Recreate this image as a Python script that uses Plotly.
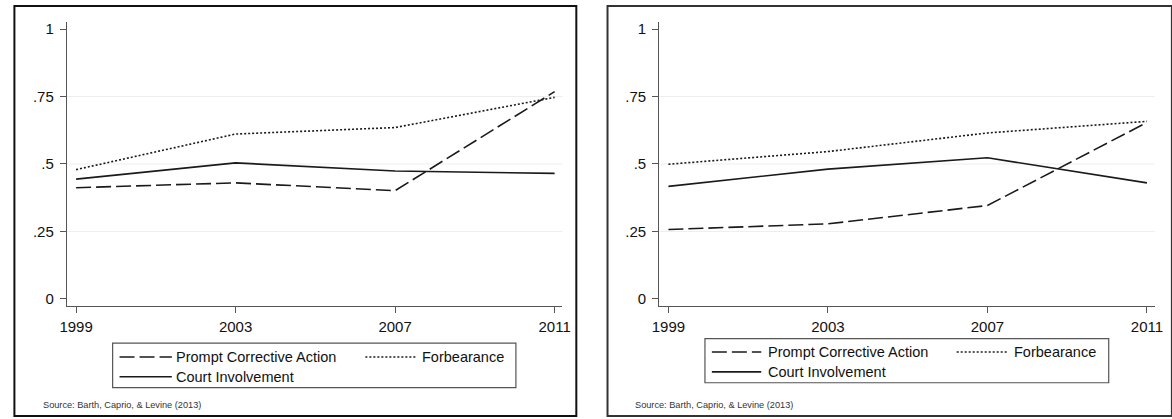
import plotly.graph_objects as go

# Survey waves
years = [1999, 2003, 2007, 2011]

# Left panel series
left_prompt_corrective = [0.412, 0.430, 0.401, 0.768]
left_forbearance = [0.479, 0.611, 0.635, 0.747]
left_court = [0.444, 0.504, 0.474, 0.465]

# Right panel series
right_prompt_corrective = [0.257, 0.278, 0.346, 0.654]
right_forbearance = [0.499, 0.546, 0.615, 0.658]
right_court = [0.417, 0.481, 0.523, 0.430]

# Tick labels
y_tickvals = [0, 0.25, 0.5, 0.75, 1]
y_ticktext = ["0", ".25", ".5", ".75", "1"]
x_ticktext = ["1999", "2003", "2007", "2011"]

series_names = ["Prompt Corrective Action", "Forbearance", "Court Involvement"]
source_text = "Source: Barth, Caprio, & Levine (2013)"

W, H = 1172, 419
FONT = "Liberation Sans, Arial, sans-serif"
LINE_COLOR = "#1a1a1a"
DASH_PCA = "15px,5px"
DASH_FORB = "2px,2px"


def fx(x):
    return x / W


def fy(y):
    return 1 - y / H


fig = go.Figure()

panels = [
    ("x", "y", left_prompt_corrective, left_forbearance, left_court),
    ("x2", "y2", right_prompt_corrective, right_forbearance, right_court),
]
styles = [DASH_PCA, DASH_FORB, "solid"]

for xa, ya, pca, forb, court in panels:
    for name, vals, dash in zip(series_names, [pca, forb, court], styles):
        fig.add_trace(go.Scatter(
            x=years, y=vals, mode="lines", name=name, showlegend=False,
            line=dict(color=LINE_COLOR, width=1.6, dash=dash),
            xaxis=xa, yaxis=ya,
        ))

axis_common = dict(
    showline=True, linecolor="#555555", linewidth=1.2,
    ticks="outside", ticklen=6, tickcolor="#555555", tickwidth=1,
    showgrid=False, zeroline=False,
    tickfont=dict(family=FONT, size=15, color="#111111"),
)

xr = [1998.77, 2011.198]
yr = [-0.0247, 1.0269]
ydom = [fy(306.7), fy(21)]

fig.update_layout(
    width=W, height=H, autosize=False,
    margin=dict(l=0, r=0, t=0, b=0),
    paper_bgcolor="white", plot_bgcolor="white",
    showlegend=False,
    xaxis=dict(domain=[fx(60.7), fx(562.7)], range=xr, tickvals=years,
               ticktext=x_ticktext, anchor="y", ticklabelstandoff=1,
               **axis_common),
    yaxis=dict(domain=ydom, range=yr, tickvals=y_tickvals,
               ticktext=y_ticktext, anchor="x", ticklabelstandoff=3,
               **axis_common),
    xaxis2=dict(domain=[fx(660.7), fx(1162.7)], range=xr, tickvals=years,
                ticktext=x_ticktext, anchor="y2", ticklabelstandoff=1,
                **axis_common),
    yaxis2=dict(domain=ydom, range=yr, tickvals=y_tickvals,
                ticktext=y_ticktext, anchor="x2", ticklabelstandoff=3,
                **axis_common),
)

shapes = []
annotations = []

# Faint horizontal grid lines
for xref, yref in [("x domain", "y"), ("x2 domain", "y2")]:
    for v in [0.25, 0.5, 0.75]:
        shapes.append(dict(type="line", xref=xref, yref=yref, x0=0, x1=1,
                           y0=v, y1=v, line=dict(color="#eeeeee", width=1),
                           layer="below"))

# Outer frames of each panel
shapes.append(dict(type="rect", xref="paper", yref="paper",
                   x0=fx(7.5), x1=fx(576.7), y0=fy(418), y1=fy(5),
                   line=dict(color="#111111", width=2)))
shapes.append(dict(type="rect", xref="paper", yref="paper",
                   x0=fx(608.3), x1=fx(1180), y0=fy(418), y1=fy(5),
                   line=dict(color="#333333", width=2)))

# Legend boxes with line samples and labels
legends = [
    dict(box=(107, 344.5, 515.5, 389.5), row1=358.5, row2=378.5,
         s1=(114, 167), t1=169, s2=(363, 414), t2=418),
    dict(box=(707, 340, 1116, 384.5), row1=353.5, row2=373.5,
         s1=(714, 764), t1=769, s2=(962, 1013), t2=1018),
]
for lg in legends:
    bx0, by0, bx1, by1 = lg["box"]
    shapes.append(dict(type="rect", xref="paper", yref="paper",
                       x0=fx(bx0), x1=fx(bx1), y0=fy(by1), y1=fy(by0),
                       line=dict(color="#555555", width=1.2)))
    entries = [
        (lg["s1"], lg["t1"], lg["row1"], DASH_PCA, series_names[0]),
        (lg["s2"], lg["t2"], lg["row1"], DASH_FORB, series_names[1]),
        (lg["s1"], lg["t1"], lg["row2"], "solid", series_names[2]),
    ]
    for (sx0, sx1), tx, ry, dash, label in entries:
        shapes.append(dict(type="line", xref="paper", yref="paper",
                           x0=fx(sx0), x1=fx(sx1), y0=fy(ry), y1=fy(ry),
                           line=dict(color=LINE_COLOR, width=1.6, dash=dash)))
        annotations.append(dict(xref="paper", yref="paper", x=fx(tx), y=fy(ry),
                                text=label, showarrow=False, xanchor="left",
                                yanchor="middle",
                                font=dict(family=FONT, size=14.5, color="#111111")))

# Source notes
for sx in [34, 634]:
    annotations.append(dict(xref="paper", yref="paper", x=fx(sx), y=fy(406.5),
                            text=source_text, showarrow=False, xanchor="left",
                            yanchor="middle",
                            font=dict(family=FONT, size=9.2, color="#333333")))

fig.update_layout(shapes=shapes, annotations=annotations)

fig.write_html("out.html")
